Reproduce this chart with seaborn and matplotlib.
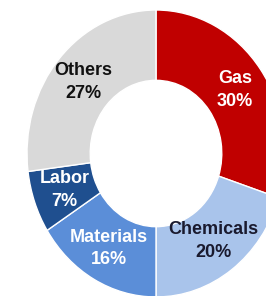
import numpy as np
import matplotlib
matplotlib.use("Agg")
import matplotlib.pyplot as plt
import seaborn as sns

# Доли затрат
categories = ["Gas", "Chemicals", "Materials", "Labor", "Others"]
shares = [30, 20, 16, 7, 27]
colors = ["#c00000", "#a9c4eb", "#5b8ed8", "#1f4f8f", "#d9d9d9"]
text_colors = ["white", "#1a1a2e", "white", "white", "#111111"]

sns.set_theme(style="white")
plt.rcParams["font.family"] = ["Liberation Sans", "DejaVu Sans"]

fig = plt.figure(figsize=(2.66, 2.96), dpi=100)
ax = fig.add_axes([0, 0, 1, 1])

wedges, _ = ax.pie(
    shares,
    colors=colors,
    startangle=90,
    counterclock=False,
    radius=1.0,
    wedgeprops=dict(width=0.49, edgecolor="white", linewidth=1.0),
)

# Подписи по центру каждого сектора
for w, name, val, tc in zip(wedges, categories, shares, text_colors):
    theta = np.deg2rad((w.theta1 + w.theta2) / 2)
    r = 0.755
    ax.text(r * np.cos(theta), r * np.sin(theta), f"{name}\n{val}%",
            ha="center", va="center", color=tc, fontsize=13,
            fontweight="bold", linespacing=1.45)

# Круг обрезан справа и снизу, немного вытянут по вертикали
ax.set_aspect("auto")
ax.set_xlim(-156 / 129, 110 / 129)
ax.set_ylim(-142.5 / 143.5, 153.5 / 143.5)
ax.axis("off")

plt.savefig("out.png", dpi=100)
plt.close()
